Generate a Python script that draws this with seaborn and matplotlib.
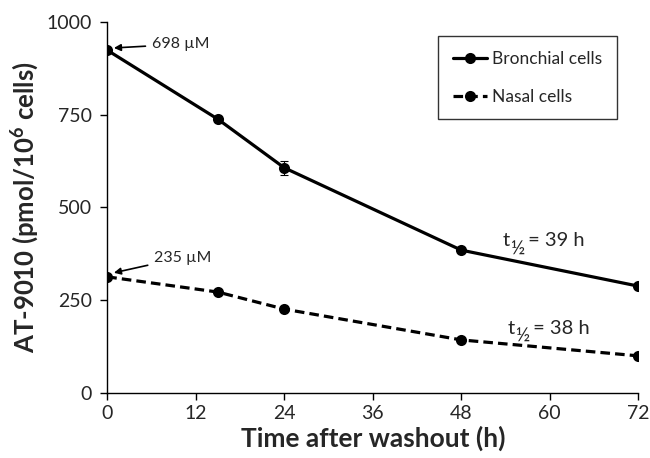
import matplotlib
matplotlib.use("Agg")
import matplotlib.pyplot as plt
import seaborn as sns
import pandas as pd

time_h = [0, 15, 24, 48, 72]
bronchial = [924, 738, 607, 385, 288]
nasal = [313, 272, 226, 143, 100]
bronchial_err = [0, 8, 19, 0, 0]
series_names = ["Bronchial cells", "Nasal cells"]
x_ticks = [0, 12, 24, 36, 48, 60, 72]
y_ticks = [0, 250, 500, 750, 1000]

sns.set_theme(style="ticks")
FONT = "Lato"
plt.rcParams["font.family"] = [FONT, "DejaVu Sans"]
plt.rcParams["mathtext.fontset"] = "custom"
plt.rcParams["mathtext.rm"] = FONT
plt.rcParams["mathtext.it"] = FONT
plt.rcParams["mathtext.bf"] = FONT + ":bold"

df = pd.DataFrame({
    "Time": time_h * 2,
    "Value": bronchial + nasal,
    "Cells": [series_names[0]] * len(time_h) + [series_names[1]] * len(time_h),
})

fig = plt.figure(figsize=(6.5, 4.58), dpi=100)
ax = fig.add_axes([0.165, 0.142, 0.817, 0.81])

sns.lineplot(data=df, x="Time", y="Value", style="Cells", hue="Cells",
             palette={series_names[0]: "black", series_names[1]: "black"},
             dashes={series_names[0]: "", series_names[1]: (3, 1.6)},
             markers={series_names[0]: "o", series_names[1]: "o"},
             markersize=8, linewidth=2.3, markeredgewidth=0, ax=ax)

ax.errorbar(time_h, bronchial, yerr=bronchial_err, fmt="none", ecolor="black",
            elinewidth=0.8, capsize=3, capthick=0.8)

ax.set_xlim(0, 72)
ax.set_ylim(0, 1000)
ax.set_xticks(x_ticks)
ax.set_yticks(y_ticks)
ax.tick_params(labelsize=14, length=5, width=1, color="black", direction="out", pad=4)
ax.tick_params(axis="y", pad=6)
for s in ["top", "right"]:
    ax.spines[s].set_visible(False)
for s in ["left", "bottom"]:
    ax.spines[s].set_color("black")
    ax.spines[s].set_linewidth(1)
ax.set_xlabel("Time after washout (h)", fontsize=19, fontweight="bold", labelpad=2)
ax.set_ylabel(r"AT-9010 (pmol/10$^{\mathbf{6}}$ cells)", fontsize=18.5, fontweight="bold", labelpad=4)

leg = ax.legend(loc="upper left", bbox_to_anchor=(0.606, 0.985), fontsize=12.5,
                frameon=True, fancybox=False, edgecolor="black", handlelength=2.0,
                labelspacing=1.25, borderpad=0.85, handletextpad=0.3)
leg.get_frame().set_linewidth(1)
leg.set_title(None)

ax.annotate("698 µM", xy=(0.9, 930), xytext=(6.0, 940), fontsize=11.5,
            ha="left", va="center",
            arrowprops=dict(arrowstyle="-|>", color="black", lw=1.2, mutation_scale=10,
                            shrinkA=2, shrinkB=0))
ax.annotate("235 µM", xy=(0.9, 324), xytext=(6.3, 365), fontsize=11.5,
            ha="left", va="center",
            arrowprops=dict(arrowstyle="-|>", color="black", lw=1.2, mutation_scale=10,
                            shrinkA=2, shrinkB=0))


def half_life(x, y, label):
    t1 = ax.text(x, y, "t", fontsize=14.5, ha="left", va="baseline")
    t2 = ax.annotate("½", xy=(1, 0), xycoords=t1, xytext=(0, 0), textcoords="offset points",
                     fontsize=14, ha="left", va="center")
    ax.annotate(label, xy=(1, 0), xycoords=(t2, t1), xytext=(-1, 0),
                textcoords="offset points", fontsize=14.5, ha="left", va="bottom")


half_life(53.6, 395, " = 39 h")
half_life(54.3, 160, " = 38 h")

fig.savefig("out.png", dpi=100)
